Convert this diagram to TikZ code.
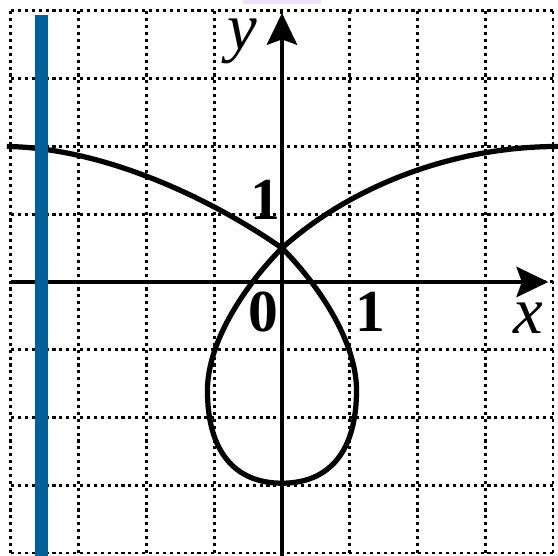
\documentclass[tikz,border=0pt]{standalone}
\usepackage{fontspec}
\setmainfont{Liberation Serif}
\usetikzlibrary{arrows.meta}
\definecolor{barblue}{HTML}{00609A}
\definecolor{lavender}{HTML}{EDE2F7}

\begin{document}
\begin{tikzpicture}[
  gridline/.style={line width=1.25pt, dash pattern=on 1.3pt off 1.6pt},
  axis/.style={line width=1.3pt, -{Stealth[length=0.47cm, width=0.45cm, inset=0.08cm]}},
  curve/.style={line width=2.2pt, line join=round},
  num/.style={font=\fontsize{25}{25}\selectfont\bfseries, inner sep=0pt},
  var/.style={font=\fontsize{28}{28}\selectfont\itshape, inner sep=0pt}
]
\useasboundingbox (-4.162,-4.044) rectangle (4.074,4.162);
\fill[lavender] (-0.58,4.10) rectangle (0.58,4.162);

% dotted grid
\foreach \k in {-4,...,4} {
  \draw[gridline] (\k,-4) -- (\k,4);
  \draw[gridline] (-4,\k) -- (4,\k);
}

% axes
\coordinate (xs) at (-4,0);
\coordinate (xe) at (3.93,0);
\coordinate (ys) at (0,-4.044);
\coordinate (ye) at (0,3.97);
\draw[axis] (xs) -- (xe);
\draw[axis] (ys) -- (ye);

% the curve
\coordinate (lend) at (-4.06,2.0);
\coordinate (rend) at (4.074,2.0);
\coordinate (cross) at (0,0.5);
\coordinate (rside) at (1.1,-1.6);
\coordinate (lside) at (-1.1,-1.6);
\coordinate (bottom) at (0,-2.97);
\draw[curve] (lend) .. controls (-2.6,1.98) and (-1.0,1.2) .. (cross)
  .. controls (0.5,0.0) and (1.1,-0.85) .. (rside)
  .. controls (1.1,-2.5) and (0.7,-2.97) .. (bottom)
  .. controls (-0.7,-2.97) and (-1.1,-2.5) .. (lside)
  .. controls (-1.1,-0.85) and (-0.5,0.0) .. (cross)
  .. controls (1.0,1.4) and (2.5,2.0) .. (rend);

% labels
\node[var] (ylab) at (-0.59,3.55) {y};
\node[var] (xlab) at (3.63,-0.53) {x};
\node[num] (oney) at (-0.24,1.21) {1};
\node[num] (zero) at (-0.28,-0.44) {0};
\node[num] (onex) at (1.3,-0.44) {1};

% blue bar
\fill[barblue] (-3.64,-4.044) rectangle (-3.46,3.94);
\end{tikzpicture}
\end{document}
